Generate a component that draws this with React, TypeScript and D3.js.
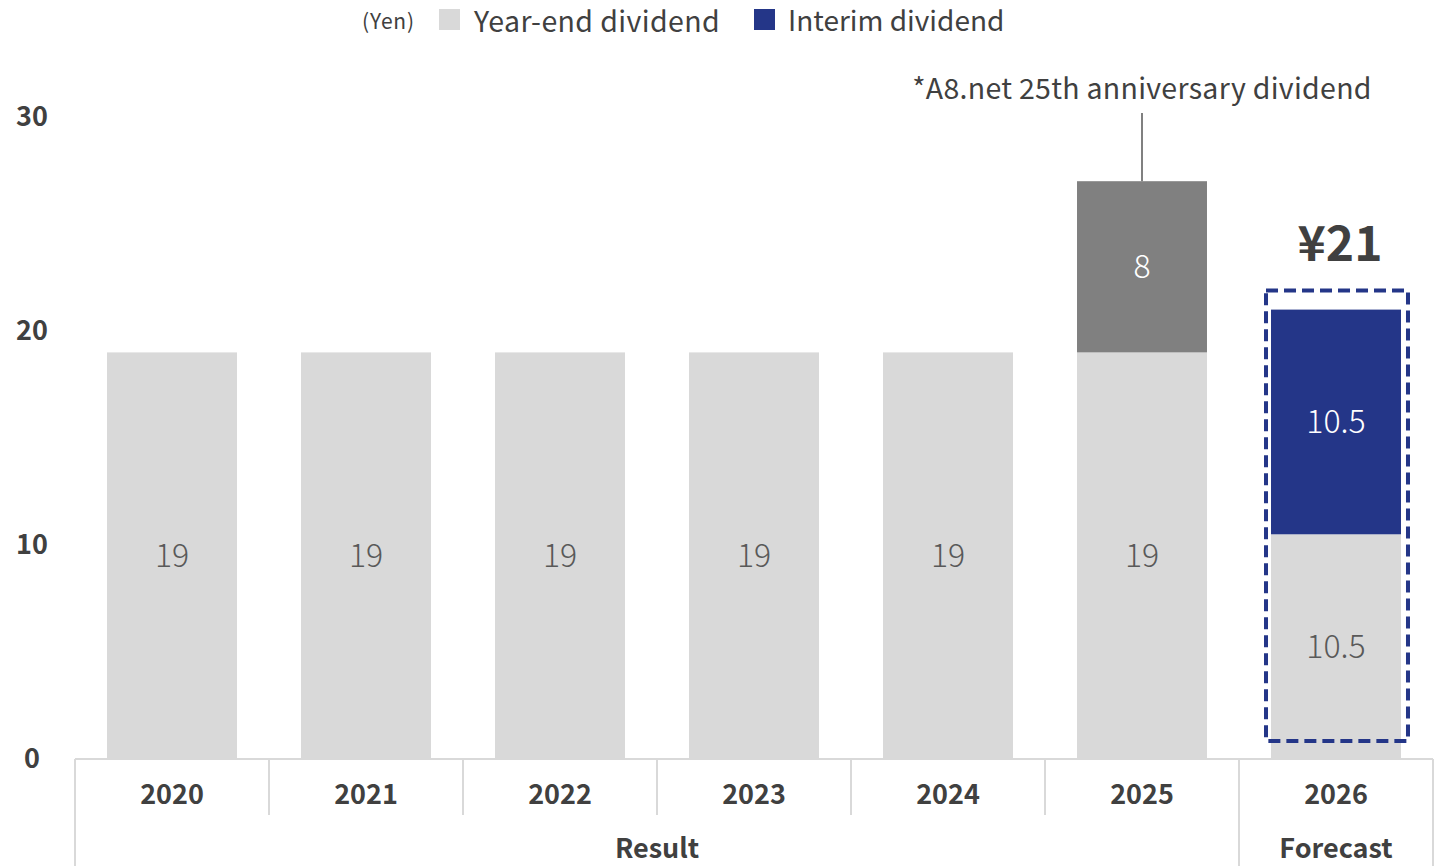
import React from "react";
import * as d3 from "d3";

const years = ["2020", "2021", "2022", "2023", "2024", "2025", "2026"];
const yearEnd = [19, 19, 19, 19, 19, 19, 10.5];
const interim = [0, 0, 0, 0, 0, 0, 10.5];
const anniversary = [0, 0, 0, 0, 0, 8, 0];
const yTicks = [0, 10, 20, 30];
const groups = [
  { label: "Result", from: "2020", to: "2025" },
  { label: "Forecast", from: "2026", to: "2026" },
];
const annotationText = "*A8.net 25th anniversary dividend";
const forecastTotalLabel = "¥21";
const forecastTotal = 21;

const W = 1440;
const H = 866;
const FONT = "'Noto Sans CJK JP', 'Noto Sans', sans-serif";
const C_LIGHT = "#d9d9d9";
const C_NAVY = "#243688";
const C_GRAY = "#808080";
const C_TEXT = "#404040";
const C_AXIS = "#d9d9d9";
const DY = -3;

export default function App() {
  const x = d3.scaleBand<string>().domain(years).range([75, 1433]).paddingInner(0).paddingOuter(0);
  const y = d3.scaleLinear().domain([0, 30]).range([759, 117]);
  const bw = x.bandwidth() * 0.67;
  const bx = (yr: string) => (x(yr) as number) + (x.bandwidth() - bw) / 2;
  const cx = (yr: string) => (x(yr) as number) + x.bandwidth() / 2;
  const y0 = y(0);

  const annIdx = anniversary.findIndex((v) => v > 0);
  const annYear = years[annIdx];
  const annTop = y(yearEnd[annIdx] + anniversary[annIdx]);
  const fcYear = years[years.length - 1];

  return (
    <svg width={W} height={H} style={{ display: "block", position: "absolute", left: 0, top: 0 }} fontFamily={FONT}>
      {/* legend */}
      <text x={362} y={20} fontSize={21} letterSpacing={0.8} fill={C_TEXT} dominantBaseline="central">(Yen)</text>
      <rect x={439} y={9} width={21} height={21} fill={C_LIGHT} />
      <text x={474} y={19} fontSize={28.5} letterSpacing={0.4} fill={C_TEXT} dominantBaseline="central">Year-end dividend</text>
      <rect x={754} y={9} width={21} height={21} fill={C_NAVY} />
      <text x={788} y={19} fontSize={28} fill={C_TEXT} dominantBaseline="central">Interim dividend</text>

      {/* y tick labels */}
      {yTicks.map((t) => (
        <text key={t} x={32} y={y(t) + DY} fontSize={27} fontWeight={700} fill={C_TEXT} textAnchor="middle" dominantBaseline="central">
          {t}
        </text>
      ))}

      {/* bars */}
      {years.map((yr, i) => {
        const ye = yearEnd[i];
        const it = interim[i];
        const an = anniversary[i];
        return (
          <g key={yr}>
            <rect x={bx(yr)} y={y(ye)} width={bw} height={y0 - y(ye)} fill={C_LIGHT} />
            <text x={cx(yr)} y={y(ye / 2) + DY} fontSize={32} fontWeight={300} fill="#595959" textAnchor="middle" dominantBaseline="central">
              {ye}
            </text>
            {it > 0 && (
              <g>
                <rect x={bx(yr)} y={y(ye + it)} width={bw} height={y(ye) - y(ye + it)} fill={C_NAVY} />
                <text x={cx(yr)} y={y(ye + it / 2) + DY} fontSize={32} fontWeight={300} fill="#ffffff" textAnchor="middle" dominantBaseline="central">
                  {it}
                </text>
              </g>
            )}
            {an > 0 && (
              <g>
                <rect x={bx(yr)} y={y(ye + an)} width={bw} height={y(ye) - y(ye + an)} fill={C_GRAY} />
                <text x={cx(yr)} y={y(ye + an / 2) + DY} fontSize={32} fontWeight={300} fill="#ffffff" textAnchor="middle" dominantBaseline="central">
                  {an}
                </text>
              </g>
            )}
          </g>
        );
      })}

      {/* annotation */}
      <line x1={cx(annYear)} x2={cx(annYear)} y1={113} y2={annTop} stroke={C_GRAY} strokeWidth={2} />
      <text x={cx(annYear)} y={89 + DY} fontSize={28.5} letterSpacing={0.3} fill={C_TEXT} textAnchor="middle" dominantBaseline="central">
        {annotationText}
      </text>

      {/* forecast dashed box */}
      <rect
        x={bx(fcYear) - 5}
        y={y(forecastTotal) - 19}
        width={bw + 12}
        height={y0 - 18 - (y(forecastTotal) - 19)}
        fill="none"
        stroke={C_NAVY}
        strokeWidth={4}
        strokeDasharray="12 6"
      />
      <text x={cx(fcYear) + 4} y={243 + DY} fontSize={48} fontWeight={700} fill={C_TEXT} textAnchor="middle" dominantBaseline="central">
        {forecastTotalLabel}
      </text>

      {/* category axis */}
      <line x1={75} x2={1433} y1={y0} y2={y0} stroke={C_AXIS} strokeWidth={2} />
      {years.map((yr, i) => {
        const left = x(yr) as number;
        const isGroupEdge = i === 0 || groups.some((g) => g.from === yr);
        return (
          <line key={"s" + yr} x1={left} x2={left} y1={y0} y2={isGroupEdge ? H : 815} stroke={C_AXIS} strokeWidth={2} />
        );
      })}
      <line x1={1433} x2={1433} y1={y0} y2={H} stroke={C_AXIS} strokeWidth={2} />
      {years.map((yr) => (
        <text key={"l" + yr} x={cx(yr)} y={795 + DY} fontSize={27} fontWeight={700} fill={C_TEXT} textAnchor="middle" dominantBaseline="central">
          {yr}
        </text>
      ))}
      {groups.map((g) => {
        const a = x(g.from) as number;
        const b = (x(g.to) as number) + x.bandwidth();
        return (
          <text key={g.label} x={(a + b) / 2} y={849 + DY} fontSize={27} fontWeight={700} fill={C_TEXT} textAnchor="middle" dominantBaseline="central">
            {g.label}
          </text>
        );
      })}
    </svg>
  );
}
